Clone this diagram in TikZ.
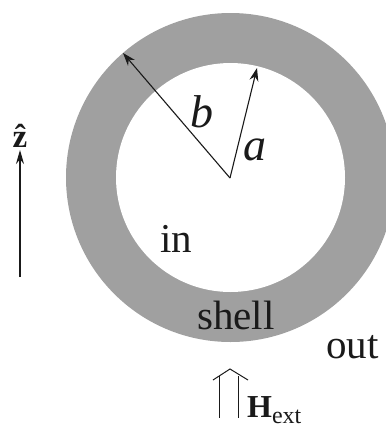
\documentclass[tikz,border=0pt]{standalone}
\usepackage{fontspec}
\setmainfont{Liberation Serif}
\usetikzlibrary{arrows.meta}
\definecolor{shellgray}{HTML}{A0A0A0}
\definecolor{ink}{HTML}{1A1A1A}
\tikzset{
  lbl/.style={inner sep=0pt, anchor=base west, text=ink},
  vec/.style={draw=ink, line width=1.1pt, -{Stealth[length=13pt,width=9pt]}},
}
\begin{document}
\begin{tikzpicture}[x=1pt,y=-1pt]
\useasboundingbox (0,0) rectangle (386,429);
\clip (0,0) rectangle (386,429);
% shell and interior
\fill[shellgray] (230.5,177.5) circle (164.5);
\fill[white] (230.5,177.5) circle (114.5);
% radii
\coordinate (c) at (230,178);
\coordinate (btip) at (123,53);
\coordinate (atip) at (257,68);
\draw[vec] (c) -- (btip);
\draw[vec] (c) -- (atip);
\node[lbl] (b) at (190,127) {\fontsize{46}{50}\selectfont\itshape b};
\node[lbl] (a) at (243,160) {\fontsize{46}{50}\selectfont\itshape a};
% region labels
\node[lbl] (in) at (160,252) {\fontsize{41}{45}\selectfont in};
\node[lbl] (shell) at (197,329) {\fontsize{41}{45}\selectfont shell};
\node[lbl] (out) at (326,358) {\fontsize{41}{45}\selectfont out};
% z axis
\node[inner sep=0pt, anchor=base, text=ink] (zhat) at (20,147) {\fontsize{33}{36}\selectfont\bfseries \^{z}};
\coordinate (zbot) at (20,277);
\coordinate (ztop) at (20,150);
\draw[draw=ink, line width=1.2pt, -{Stealth[length=14pt,width=8pt]}] (zbot) -- (ztop);
% external field double arrow
\coordinate (hl) at (213,380);
\coordinate (hap) at (230,369);
\coordinate (hr) at (248,380);
\draw[draw=ink, line width=1pt] (hl) -- (hap) -- (hr);
\draw[draw=ink, line width=1pt] (219,376) -- (219,418);
\draw[draw=ink, line width=1pt] (238,376) -- (238,418);
\node[lbl] (H) at (247,417) {\fontsize{32}{36}\selectfont\bfseries H\fontsize{24}{26}\selectfont\mdseries\raisebox{-6pt}{ext}};
\end{tikzpicture}
\end{document}
